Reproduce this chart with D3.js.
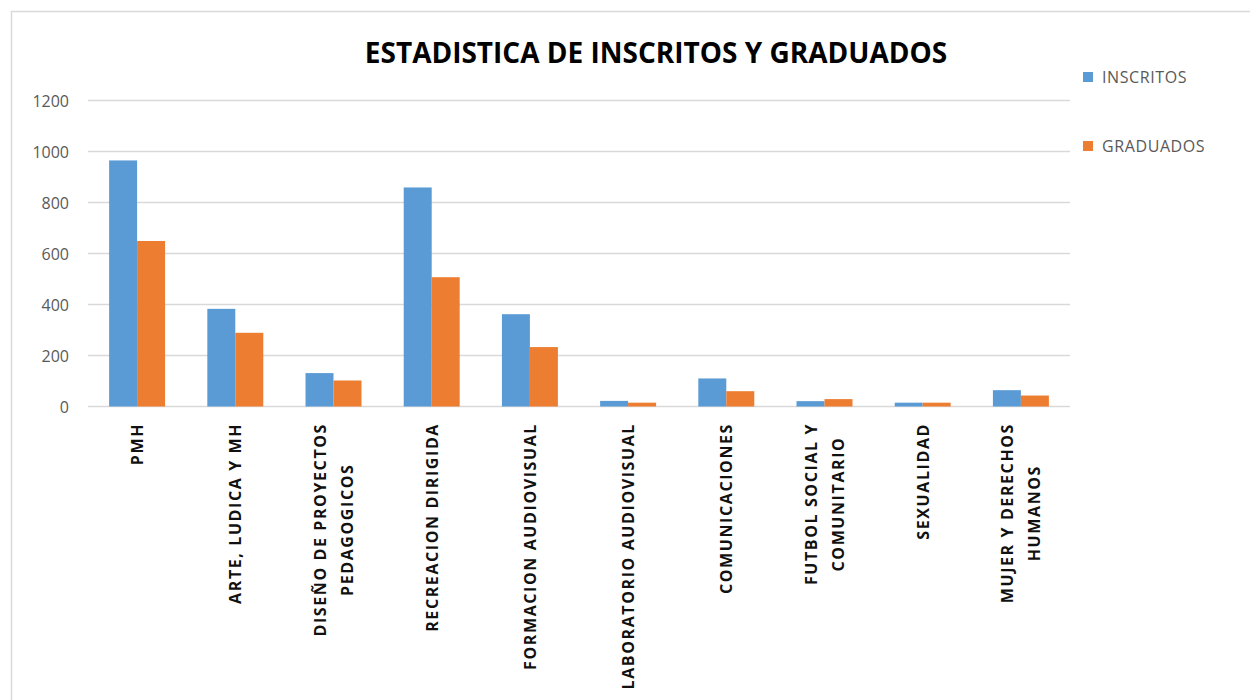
<!DOCTYPE html>
<html>
<head>
<meta charset="utf-8">
<script src="https://cdn.jsdelivr.net/npm/d3@7"></script>
<style>
  body { margin: 0; background: #fff; }
  svg text { font-family: "Liberation Sans Narrow", "Open Sans", sans-serif; }
</style>
</head>
<body>
<svg id="svg" width="1250" height="700"></svg>
<script>
const WIDTH = 1250
const HEIGHT = 700

const categories = [
  ['PMH'],
  ['ARTE, LUDICA Y MH'],
  ['DISEÑO DE PROYECTOS', 'PEDAGOGICOS'],
  ['RECREACION DIRIGIDA'],
  ['FORMACION AUDIOVISUAL'],
  ['LABORATORIO AUDIOVISUAL'],
  ['COMUNICACIONES'],
  ['FUTBOL SOCIAL Y', 'COMUNITARIO'],
  ['SEXUALIDAD'],
  ['MUJER Y DERECHOS', 'HUMANOS']
]
const seriesNames = ['INSCRITOS', 'GRADUADOS']
const inscritos = [965, 383, 131, 859, 362, 22, 110, 21, 15, 64]
const graduados = [649, 289, 102, 507, 233, 15, 60, 29, 15, 43]
const yTicks = [0, 200, 400, 600, 800, 1000, 1200]

const COLORS = ['#5B9BD5', '#ED7D31']

const SVG = d3.select('#svg')

// chart frame
SVG.append('path')
  .attr('d', `M11.5,${HEIGHT} V11.5 H${WIDTH}`)
  .attr('fill', 'none')
  .attr('stroke', '#d9d9d9')
  .attr('stroke-width', 1.5)

const x = d3.scaleBand()
  .domain(d3.range(categories.length))
  .range([88, 1070])
  .paddingInner(0.43)
  .paddingOuter(0.215)

const xSub = d3.scaleBand()
  .domain(seriesNames)
  .range([0, x.bandwidth()])

const y = d3.scaleLinear()
  .domain([0, 1200])
  .range([406.5, 100.5])

// gridlines
SVG.append('g')
  .selectAll('line')
  .data(yTicks)
  .enter()
  .append('line')
  .attr('x1', 88)
  .attr('x2', 1070)
  .attr('y1', d => y(d))
  .attr('y2', d => y(d))
  .attr('stroke', '#d9d9d9')
  .attr('stroke-width', 1.5)

const Y_AXIS = SVG.append('g')
  .attr('transform', 'translate(69,0)')
  .call(d3.axisLeft(y).tickValues(yTicks).tickFormat(d3.format('d')).tickSize(0).tickPadding(0))
Y_AXIS.select('.domain').remove()
Y_AXIS.selectAll('text')
  .attr('fill', '#595959')
  .style('font-size', '16px')
  .attr('dy', '0.35em')

// bars
const rows = categories.map((c, i) => ({ i, values: [inscritos[i], graduados[i]] }))
const GROUPS = SVG.append('g')
  .selectAll('g')
  .data(rows)
  .enter()
  .append('g')
  .attr('transform', d => `translate(${x(d.i)},0)`)

GROUPS.selectAll('rect')
  .data(d => d.values.map((v, k) => ({ k, v })))
  .enter()
  .append('rect')
  .attr('x', d => xSub(seriesNames[d.k]))
  .attr('width', xSub.bandwidth())
  .attr('y', d => y(d.v))
  .attr('height', d => y(0) - y(d.v))
  .attr('fill', d => COLORS[d.k])

// x labels, rotated
const LABELS = SVG.append('g')
  .selectAll('g')
  .data(categories)
  .enter()
  .append('g')

LABELS.each(function (lines, i) {
  const g = d3.select(this)
  const texts = g.selectAll('text')
    .data(lines)
    .enter()
    .append('text')
    .text(d => d)
    .attr('text-anchor', 'middle')
    .attr('fill', '#111')
    .style('font-weight', 'bold')
    .style('font-size', '16px')
    .style('letter-spacing', '1.6px')
  let maxLen = 0
  texts.each(function () { maxLen = Math.max(maxLen, this.getComputedTextLength()) })
  const cx = x(i) + x.bandwidth() / 2
  const cy = 423 + maxLen / 2
  const lineGap = 27
  texts.attr('transform', (d, k) => {
    const off = (k - (lines.length - 1) / 2) * lineGap
    return `translate(${cx + off + 6},${cy}) rotate(-90)`
  })
})

// title
SVG.append('text')
  .text('ESTADISTICA DE INSCRITOS Y GRADUADOS')
  .attr('x', 656)
  .attr('y', 63)
  .attr('text-anchor', 'middle')
  .attr('fill', '#000')
  .style('font-weight', 'bold')
  .style('font-size', '28px')

// legend
const LEGEND = SVG.append('g')
  .selectAll('g')
  .data(seriesNames)
  .enter()
  .append('g')
  .attr('transform', (d, i) => `translate(1083,${72 + i * 69})`)

LEGEND.append('rect')
  .attr('width', 10)
  .attr('height', 10)
  .attr('fill', (d, i) => COLORS[i])

LEGEND.append('text')
  .text(d => d)
  .attr('x', 19)
  .attr('y', 11)
  .attr('fill', '#595959')
  .style('font-size', '16px')
  .style('letter-spacing', '0.6px')
</script>
</body>
</html>
